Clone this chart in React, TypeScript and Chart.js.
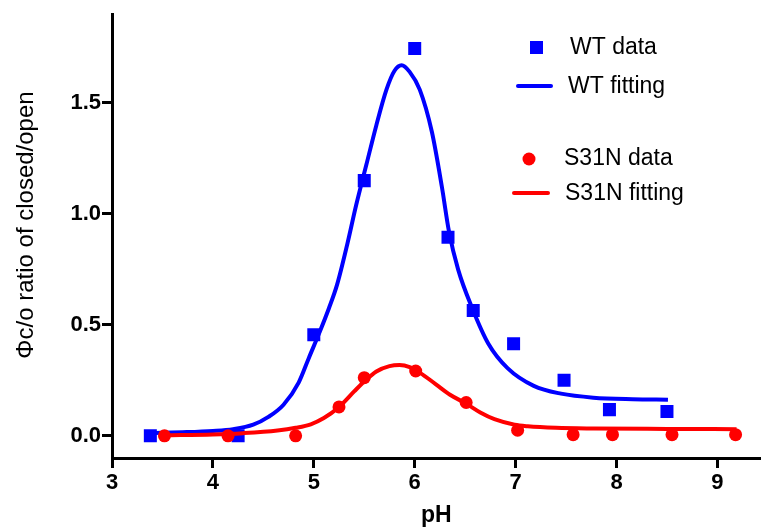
import React, { useEffect, useRef } from "react";
import { Chart, registerables } from "chart.js";

Chart.register(...registerables);

// WT measured data (pH, ratio)
const wtDataX = [3.38, 4.25, 5.0, 5.5, 6.0, 6.33, 6.58, 6.98, 7.48, 7.93, 8.5];
const wtDataY = [0.0, 0.0, 0.455, 1.15, 1.745, 0.895, 0.565, 0.415, 0.25, 0.118, 0.11];

// WT fitted curve
const wtFitX = [3.38, 3.7, 4.0, 4.2, 4.4, 4.55, 4.7, 4.85, 4.95, 5.06, 5.15, 5.23, 5.33, 5.42, 5.52, 5.62, 5.72, 5.8, 5.87, 5.95, 6.05, 6.17, 6.27, 6.34, 6.43, 6.57, 6.73, 6.92, 7.18, 7.45, 7.77, 8.16, 8.51];
const wtFitY = [0.012, 0.016, 0.022, 0.03, 0.05, 0.085, 0.14, 0.24, 0.35, 0.47, 0.575, 0.68, 0.86, 1.04, 1.22, 1.4, 1.56, 1.645, 1.67, 1.64, 1.56, 1.37, 1.12, 0.92, 0.75, 0.575, 0.415, 0.305, 0.225, 0.19, 0.172, 0.165, 0.163];

// S31N measured data
const s31nDataX = [3.52, 4.15, 4.82, 5.25, 5.5, 6.01, 6.51, 7.02, 7.57, 7.96, 8.55, 9.18];
const s31nDataY = [0.0, 0.0, 0.0, 0.13, 0.262, 0.292, 0.15, 0.025, 0.005, 0.005, 0.005, 0.005];

// S31N fitted curve
const s31nFitX = [3.52, 4.0, 4.3, 4.64, 4.82, 4.97, 5.1, 5.25, 5.4, 5.5, 5.62, 5.75, 5.85, 5.95, 6.05, 6.21, 6.35, 6.51, 6.65, 6.79, 6.99, 7.12, 7.4, 7.77, 8.5, 9.19];
const s31nFitY = [0.002, 0.006, 0.012, 0.024, 0.036, 0.052, 0.08, 0.13, 0.2, 0.245, 0.29, 0.314, 0.319, 0.31, 0.285, 0.232, 0.185, 0.145, 0.105, 0.075, 0.05, 0.043, 0.036, 0.033, 0.031, 0.03];

const xTickValues = [3, 4, 5, 6, 7, 8, 9];
const yTickValues = [0.0, 0.5, 1.0, 1.5];

const labels = ["WT data", "WT fitting", "S31N data", "S31N fitting"];
const yTitle = "Φc/o ratio of closed/open";
const xTitle = "pH";

const BLUE = "#0000ff";
const RED = "#ff0000";
const FONT = "'Liberation Sans', Arial, sans-serif";

const pts = (xs: number[], ys: number[]) => xs.map((x, i) => ({ x, y: ys[i] }));

const legendPlugin = {
  id: "customLegend",
  afterDraw(chart: any) {
    const ctx = chart.ctx;
    ctx.save();
    // y axis title
    ctx.save();
    ctx.translate(26, 225);
    ctx.rotate(-Math.PI / 2);
    ctx.font = `24px ${FONT}`;
    ctx.fillStyle = "#000";
    ctx.textAlign = "center";
    ctx.textBaseline = "middle";
    ctx.fillText(yTitle, 0, 0);
    ctx.restore();

    ctx.font = `23px ${FONT}`;
    ctx.fillStyle = "#000";
    ctx.textBaseline = "middle";
    ctx.textAlign = "left";
    // WT data
    ctx.fillStyle = BLUE;
    ctx.fillRect(530, 41, 13, 13);
    ctx.fillStyle = "#000";
    ctx.fillText(labels[0], 570, 48);
    // WT fitting
    ctx.strokeStyle = BLUE;
    ctx.lineWidth = 4;
    ctx.lineCap = "round";
    ctx.beginPath();
    ctx.moveTo(518, 86);
    ctx.lineTo(551, 86);
    ctx.stroke();
    ctx.fillText(labels[1], 568, 87);
    // S31N data
    ctx.fillStyle = RED;
    ctx.beginPath();
    ctx.arc(529, 159, 6.5, 0, Math.PI * 2);
    ctx.fill();
    ctx.fillStyle = "#000";
    ctx.fillText(labels[2], 564, 159);
    // S31N fitting
    ctx.strokeStyle = RED;
    ctx.beginPath();
    ctx.moveTo(514, 193);
    ctx.lineTo(548, 193);
    ctx.stroke();
    ctx.fillText(labels[3], 565, 194);
    ctx.restore();
  },
};

export default function App() {
  const ref = useRef<HTMLCanvasElement | null>(null);
  useEffect(() => {
    document.body.style.margin = "0";
    const canvas = ref.current;
    if (!canvas) return;
    const chart = new Chart(canvas, {
      type: "scatter",
      data: {
        datasets: [
          {
            label: labels[3],
            data: pts(s31nFitX, s31nFitY),
            showLine: true,
            borderColor: RED,
            backgroundColor: RED,
            borderWidth: 4,
            pointRadius: 0,
            cubicInterpolationMode: "monotone",
          },
          {
            label: labels[2],
            data: pts(s31nDataX, s31nDataY),
            pointStyle: "circle",
            pointRadius: 6.5,
            backgroundColor: RED,
            borderColor: RED,
            borderWidth: 0,
          },
          {
            label: labels[1],
            data: pts(wtFitX, wtFitY),
            showLine: true,
            borderColor: BLUE,
            backgroundColor: BLUE,
            borderWidth: 4,
            pointRadius: 0,
            cubicInterpolationMode: "monotone",
          },
          {
            label: labels[0],
            data: pts(wtDataX, wtDataY),
            pointStyle: "rect",
            pointRadius: 9.2,
            backgroundColor: BLUE,
            borderColor: BLUE,
            borderWidth: 0,
          },
        ],
      } as any,
      options: {
        responsive: false,
        animation: false,
        devicePixelRatio: 1,
        layout: { padding: { top: 12, right: 0, bottom: 0, left: 0 } },
        plugins: { legend: { display: false }, tooltip: { enabled: false } },
        scales: {
          x: {
            type: "linear",
            min: 3,
            max: 9.43,
            afterFit: (s: any) => {
              s.height = 71;
            },
            afterBuildTicks: (s: any) => {
              s.ticks = xTickValues.map((v) => ({ value: v }));
            },
            ticks: {
              font: { family: FONT, size: 22, weight: "bold" },
              color: "#000",
              padding: 2,
              callback: (v: any) => String(v),
              maxRotation: 0,
            },
            grid: {
              drawOnChartArea: false,
              drawTicks: true,
              tickLength: 10,
              tickWidth: 3,
              tickColor: "#000",
            },
            border: { display: true, color: "#000", width: 3 },
            title: {
              display: true,
              text: xTitle,
              color: "#000",
              font: { family: FONT, size: 23, weight: "bold" },
              padding: { top: 0, bottom: 0 },
            },
          },
          y: {
            type: "linear",
            min: -0.1,
            max: 1.9,
            afterFit: (s: any) => {
              s.width = 112;
            },
            afterBuildTicks: (s: any) => {
              s.ticks = yTickValues.map((v) => ({ value: v }));
            },
            ticks: {
              font: { family: FONT, size: 22, weight: "bold" },
              color: "#000",
              padding: 1,
              callback: (v: any) => Number(v).toFixed(1),
            },
            grid: {
              drawOnChartArea: false,
              drawTicks: true,
              tickLength: 10,
              tickWidth: 3,
              tickColor: "#000",
            },
            border: { display: true, color: "#000", width: 3 },
            title: { display: false },
          },
        },
      } as any,
      plugins: [legendPlugin],
    });
    return () => chart.destroy();
  }, []);
  return (
    <div style={{ width: 770, height: 529 }}>
      <canvas ref={ref} width={770} height={529} style={{ display: "block" }} />
    </div>
  );
}
